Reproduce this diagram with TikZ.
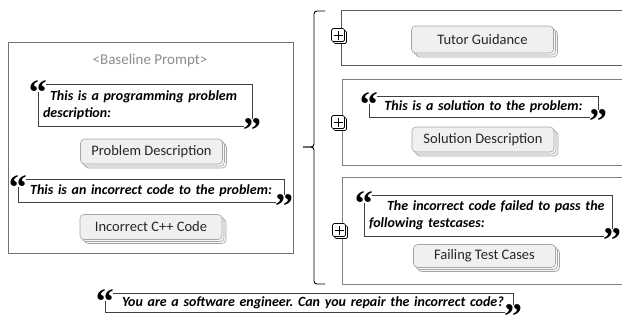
\documentclass[tikz,border=0pt]{standalone}
\usepackage{fontspec}
\setmainfont{Carlito}
\newfontfamily\quotefont{Liberation Serif}
\usetikzlibrary{shadows,positioning}
\frenchspacing
\tikzset{font=\fontsize{14.5}{17}\selectfont}
\tikzset{
  panel/.style={draw=black!55, line width=0.8pt, inner sep=0pt},
  stack/.style={draw=black!35, fill=black!6, rounded corners=4pt, line width=0.6pt,
    minimum width=142pt, minimum height=25pt, inner sep=0pt, text=black!85,
    double copy shadow={shadow xshift=2pt, shadow yshift=-2pt, fill=black!3, draw=black!35}},
  qtext/.style={inner xsep=5pt, inner ysep=0pt, font=\fontsize{14}{16.5}\selectfont\bfseries\itshape},
  qline/.style={draw=black!75, line width=0.6pt},
  qmark/.style={inner sep=0pt, anchor=north, font=\quotefont\fontsize{36}{36}\selectfont\bfseries},
  plusicon/.style={draw=black, fill=white, rounded corners=1.5pt, minimum size=13pt,
    inner sep=0pt, line width=0.7pt,
    copy shadow={shadow xshift=2pt, shadow yshift=-2pt, fill=white, draw=black},
    path picture={\draw[line width=0.8pt]
      ([xshift=-4.5pt]path picture bounding box.center) -- ([xshift=4.5pt]path picture bounding box.center)
      ([yshift=-4.5pt]path picture bounding box.center) -- ([yshift=4.5pt]path picture bounding box.center);}},
}
\begin{document}
\begin{tikzpicture}[x=1pt,y=-1pt]
  \clip (0,0) rectangle (622,325);

  % baseline prompt
  \node[panel, minimum width=285pt, minimum height=211pt] (base) at (150.5,147.5) {};
  \node[text=black!45, font=\fontsize{15}{18}\selectfont] (title) at (150,60) {<Baseline Prompt>};

  \node[qtext, text width=204pt, minimum height=42pt, align=left] (q1) at (145,105)
    {\hspace*{7pt}This is a programming problem\\description:};
  \node[stack] (desc) at (151.5,151.5) {Problem Description};

  \node[qtext, text width=256pt, minimum height=23pt, align=center] (q2) at (151,190.5)
    {This is an incorrect code to the problem:};
  \node[stack] (code) at (151,227) {Incorrect C++ Code};

  % optional parts
  \node[panel, draw=black!65, minimum width=320pt, minimum height=55pt, anchor=north west] (pA) at (341,10) {};
  \node[panel, draw=black!50, minimum width=320pt, minimum height=86pt, anchor=north west] (pB) at (342,79) {};
  \node[panel, draw=black!50, minimum width=320pt, minimum height=107pt, anchor=north west] (pC) at (342,177) {};

  \node[plusicon] (plusA) at (338,35) {};
  \node[plusicon] (plusB) at (338,122) {};
  \node[plusicon] (plusC) at (339,230) {};

  \node[stack, minimum height=27pt] (tutor) at (482.5,39.5) {Tutor Guidance};

  \node[qtext, text width=219pt, minimum height=21pt, align=center] (qB) at (483.5,106.5)
    {This is a solution to the problem:};
  \node[stack] (sol) at (483,139.5) {Solution Description};

  \node[qtext, text width=238pt, minimum height=41pt, align=left] (qC) at (488,215.5)
    {\hspace*{18pt}The incorrect code failed to pass the\\following testcases:};
  \node[stack, minimum height=23pt] (fail) at (484.5,256) {Failing Test Cases};

  % final instruction
  \node[qtext, text width=398pt, minimum height=19pt, align=left] (qD) at (309,302.5)
    {\hspace*{12pt}You are a software engineer. Can you repair the incorrect code?};

  % quote frames
  \foreach \q in {q1,q2,qB,qC,qD}{
    \draw[qline] ([xshift=8pt]\q.north west) -- (\q.north east) -- ([yshift=7pt]\q.south east);
    \draw[qline] ([xshift=-8pt]\q.south east) -- (\q.south west) -- ([yshift=-8pt]\q.north west);
    \node[qmark] (\q-open) at ([yshift=4pt]\q.north west) {\raisebox{-15pt}[9.5pt][0pt]{“}};
    \node[qmark] (\q-close) at ([yshift=8pt]\q.south east) {\raisebox{-15pt}[9.5pt][0pt]{”}};
  };

  % brace
  \draw[line width=0.9pt, rounded corners=3pt] (325,11) -- (314,11) -- (314,147) -- (303,147);
  \draw[line width=0.9pt, rounded corners=3pt] (303,147) -- (314,147) -- (314,284) -- (325,284);
\end{tikzpicture}
\end{document}
